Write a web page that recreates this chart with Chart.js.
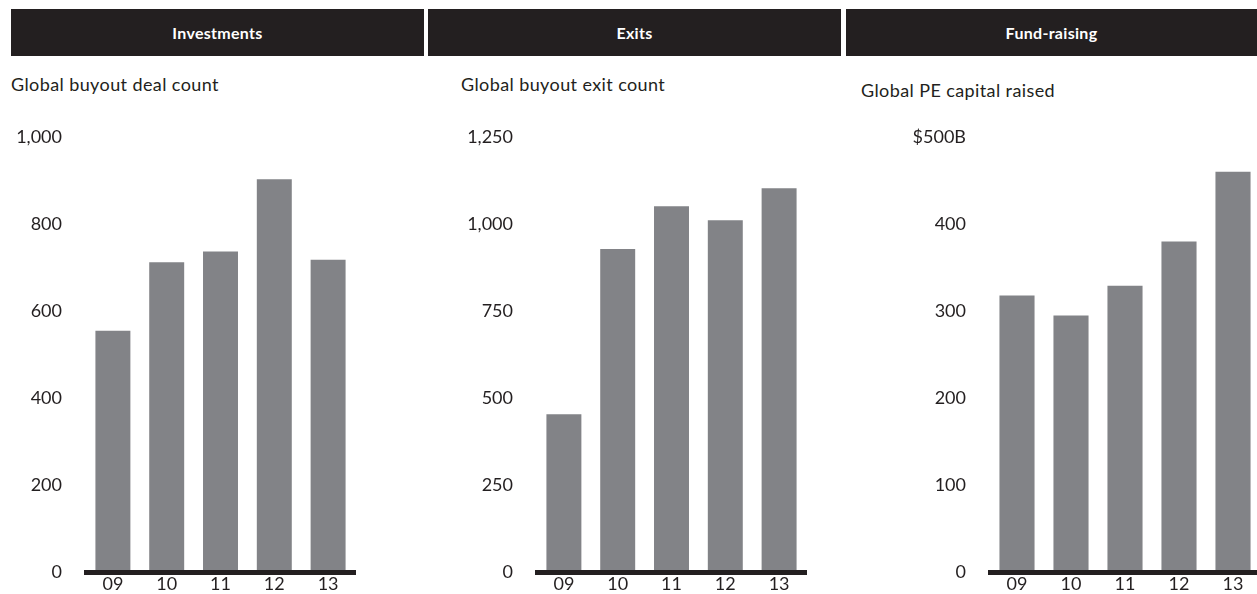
<!DOCTYPE html>
<html>
<head>
<meta charset="utf-8">
<script src="https://cdn.jsdelivr.net/npm/chart.js@4"></script>
<style>
  body { margin: 0; width: 1257px; height: 594px; overflow: hidden; background: #fff; position: relative; font-family: Lato, "Noto Sans", sans-serif; }
  .head { position: absolute; top: 9px; height: 47px; background: #231f20; color: #fff; font-weight: bold; font-size: 16px; letter-spacing: 0.3px; line-height: 47px; text-align: center; }
  .sub { position: absolute; font-size: 18px; letter-spacing: 0.4px; color: #231f20; }
  canvas { position: absolute; top: 100px; }
</style>
</head>
<body>
<div class="head" style="left:11px;width:413px">Investments</div>
<div class="head" style="left:428px;width:413px">Exits</div>
<div class="head" style="left:846px;width:411px">Fund-raising</div>
<div class="sub" style="left:11px;top:73px">Global buyout deal count</div>
<div class="sub" style="left:461px;top:73px">Global buyout exit count</div>
<div class="sub" style="left:861px;top:79px">Global PE capital raised</div>
<canvas id="c1" width="420" height="507" style="left:0"></canvas>
<canvas id="c2" width="420" height="507" style="left:420px"></canvas>
<canvas id="c3" width="430" height="507" style="left:840px"></canvas>
<script>
var years = ['09', '10', '11', '12', '13'];
var dealCount = [555, 712, 737, 903, 718];
var exitCount = [454, 928, 1051, 1011, 1103];
var capitalRaised = [318, 295, 329, 380, 460];

function createChart(chartId, values, max, step, axisWidth, padRight, topLabel) {
    var ctx = document.getElementById(chartId).getContext('2d');
    return new Chart(ctx, {
        type: 'bar',
        data: {
            labels: years,
            datasets: [{
                data: values,
                backgroundColor: '#828387',
                barPercentage: 0.65,
                categoryPercentage: 1
            }]
        },
        options: {
            responsive: false,
            animation: false,
            layout: { autoPadding: false, padding: { top: 37, right: padRight, bottom: 0, left: 0 } },
            plugins: { legend: { display: false }, tooltip: { enabled: false } },
            scales: {
                x: {
                    grid: { display: false, drawTicks: false },
                    border: { display: true, color: '#231f20', width: 5, z: 1 },
                    ticks: { color: '#231f20', padding: 1, font: { family: 'Lato', size: 18 } },
                    afterFit: function(scale) { scale.height = 22; }
                },
                y: {
                    min: 0,
                    max: max,
                    grid: { display: false, drawTicks: false },
                    border: { display: false },
                    ticks: {
                        stepSize: step,
                        padding: 24,
                        color: '#231f20',
                        font: { family: 'Lato', size: 18 },
                        callback: function(v) {
                            if (v === max && topLabel) return topLabel;
                            return v.toLocaleString('en-US');
                        }
                    },
                    afterFit: function(scale) { scale.width = axisWidth; }
                }
            }
        }
    });
}

createChart('c1', dealCount, 1000, 200, 86, 65, null);
createChart('c2', exitCount, 1250, 250, 117, 34, null);
createChart('c3', capitalRaised, 500, 100, 150, 10, '$500B');
</script>
</body>
</html>
